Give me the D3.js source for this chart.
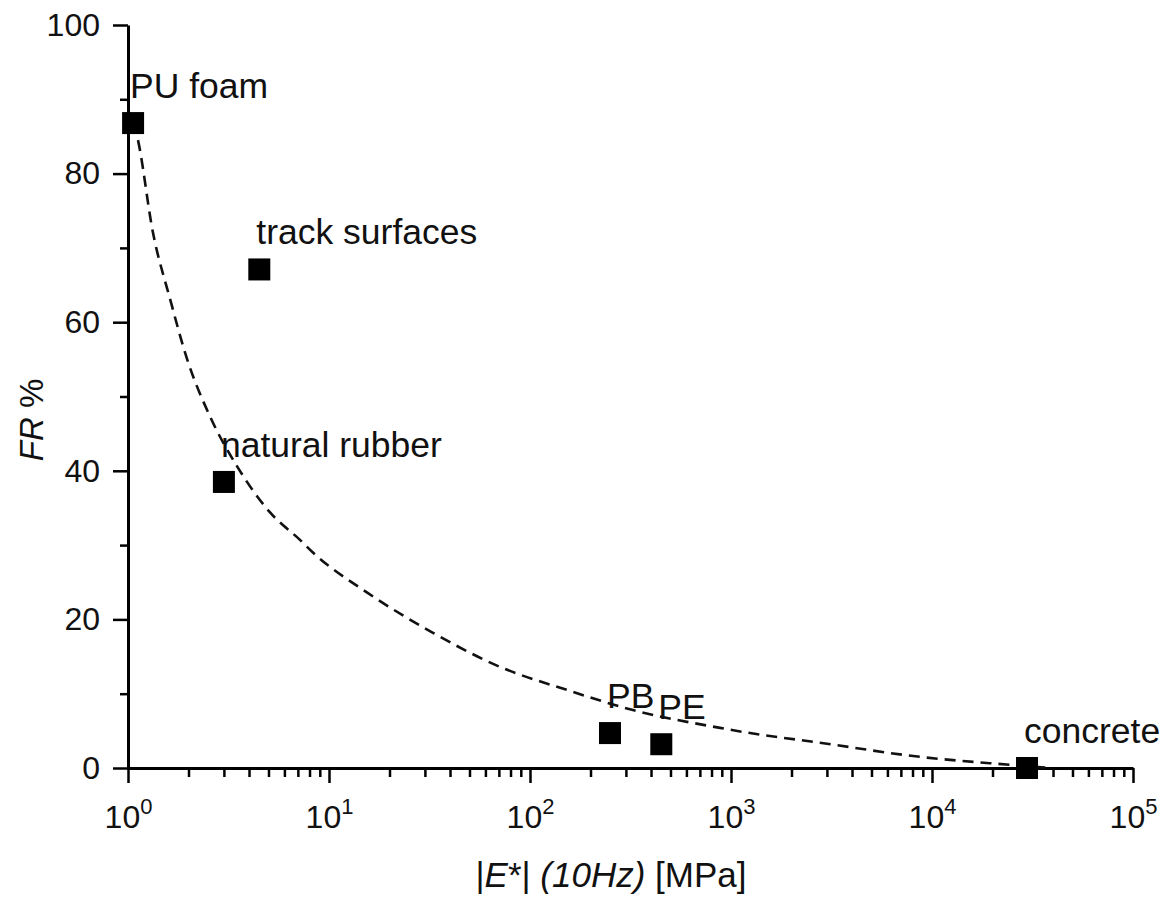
<!DOCTYPE html>
<html>
<head>
<meta charset="utf-8">
<script src="https://cdn.jsdelivr.net/npm/d3@7"></script>
<style>
  html, body { margin: 0; padding: 0; background: #fff; }
  svg { display: block; font-family: "Liberation Sans", Arial, sans-serif; }
</style>
</head>
<body>
<svg id="chart" width="1168" height="897"></svg>
<script>
// Materials: dynamic modulus |E*| at 10 Hz (MPa) and force reduction FR (%)
const materials = ["PU foam", "track surfaces", "natural rubber", "PB", "PE", "concrete"];
const modulus   = [1.06, 4.5, 3.0, 250, 450, 29700];
const forceRed  = [86.8, 67.1, 38.5, 4.7, 3.2, 0.0];

// Trend curve (dashed), sampled along the fitted line
const trendE  = [1.06, 1.11, 1.33, 1.62, 1.97, 2.56, 3.49, 5.09, 7.17, 8.32, 15.5, 32.9, 71, 153, 325, 882, 1244, 2770, 8710, 25300, 38600];
const trendFR = [86.8, 85.0, 72.1, 63.1, 55.0, 47.3, 40.6, 34.4, 30.7, 29.0, 23.6, 18.2, 13.6, 10.5, 7.8, 5.4, 4.7, 3.4, 1.5, 0.4, 0.0];

// Axis ticks
const xMajor = [1, 10, 100, 1000, 10000, 100000];
const xExp   = ["0", "1", "2", "3", "4", "5"];
const yMajor = [0, 20, 40, 60, 80, 100];
const yMinor = [10, 30, 50, 70, 90];

const svg = d3.select("#chart");
const x = d3.scaleLog().domain([1, 1e5]).range([128, 1133]);
const y = d3.scaleLinear().domain([0, 100]).range([768, 25]);

const xMinor = [];
for (let d = 1; d < 1e5; d *= 10) for (let k = 2; k <= 9; k++) xMinor.push(d * k);

// --- axes ---
const axisG = svg.append("g");

// minor ticks
axisG.append("g").attr("transform", "translate(0,768)")
  .call(d3.axisBottom(x).tickValues(xMinor).tickSize(9).tickFormat(""))
  .call(g => g.select(".domain").remove());
axisG.append("g").attr("transform", "translate(128,0)")
  .call(d3.axisLeft(y).tickValues(yMinor).tickSize(8).tickFormat(""))
  .call(g => g.select(".domain").remove());

// major ticks + domain
const xAx = axisG.append("g").attr("transform", "translate(0,768)")
  .call(d3.axisBottom(x).tickValues(xMajor).tickSize(15).tickSizeOuter(0).tickFormat(""));
const yAx = axisG.append("g").attr("transform", "translate(128,0)")
  .call(d3.axisLeft(y).tickValues(yMajor).tickSize(15).tickSizeOuter(0)
        .tickFormat(d3.format("d")).tickPadding(13));

axisG.selectAll(".tick line").attr("stroke", "#000").attr("stroke-width", 2.5);
axisG.selectAll(".domain").attr("stroke", "#000").attr("stroke-width", 3);

yAx.selectAll(".tick text")
  .attr("font-size", 32).attr("fill", "#111")
  .attr("font-family", "'Liberation Sans', Arial, sans-serif");

// x tick labels as powers of ten
xAx.selectAll(".tick").each(function(d, i) {
  const t = d3.select(this).append("text")
    .attr("y", 60).attr("text-anchor", "middle")
    .attr("fill", "#111").attr("font-size", 32)
    .attr("font-family", "'Liberation Sans', Arial, sans-serif");
  t.append("tspan").text("10");
  t.append("tspan").attr("dy", -14).attr("font-size", 22).text(xExp[i]);
});

// --- axis titles ---
const xt = svg.append("text")
  .attr("x", 611).attr("y", 887).attr("text-anchor", "middle")
  .attr("font-size", 35).attr("fill", "#111");
xt.append("tspan").text("|");
xt.append("tspan").attr("font-style", "italic").text("E");
xt.append("tspan").text("*| ");
xt.append("tspan").attr("font-style", "italic").text("(10Hz)");
xt.append("tspan").text(" [MPa]");

const yt = svg.append("text")
  .attr("transform", "translate(43,420) rotate(-90)")
  .attr("text-anchor", "middle").attr("font-size", 33).attr("fill", "#111");
yt.append("tspan").attr("font-style", "italic").text("FR");
yt.append("tspan").text(" %");

// --- trend curve ---
const trend = trendE.map((e, i) => ({ e, fr: trendFR[i] }));
svg.append("path")
  .datum(trend)
  .attr("fill", "none")
  .attr("stroke", "#111")
  .attr("stroke-width", 2.6)
  .attr("stroke-dasharray", "11,7")
  .attr("d", d3.line().curve(d3.curveMonotoneX).x(d => x(d.e)).y(d => y(d.fr)));

// --- data points ---
const pts = materials.map((m, i) => ({ m, e: modulus[i], fr: forceRed[i] }));
const size = 22;
svg.append("g").selectAll("rect")
  .data(pts).join("rect")
  .attr("x", d => x(d.e) - size / 2)
  .attr("y", d => y(d.fr) - size / 2)
  .attr("width", size).attr("height", size)
  .attr("fill", "#000");

svg.append("g").selectAll("text")
  .data(pts).join("text")
  .attr("x", d => x(d.e) - 3)
  .attr("y", d => y(d.fr) - 25)
  .attr("font-size", 35.5)
  .attr("fill", "#111")
  .text(d => d.m);
</script>
</body>
</html>
